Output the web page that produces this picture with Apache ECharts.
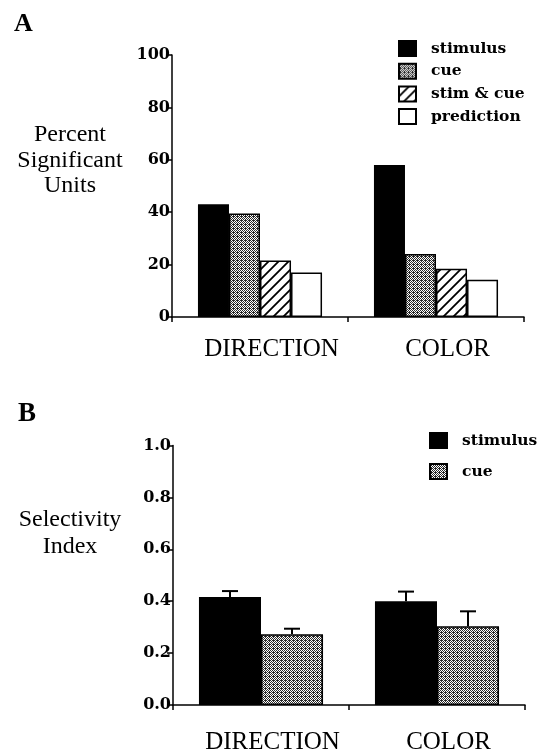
<!DOCTYPE html>
<html>
<head>
<meta charset="utf-8">
<script src="https://cdn.jsdelivr.net/npm/echarts@6/dist/echarts.min.js"></script>
<style>
html,body{margin:0;padding:0;background:#fff;}
#c{width:542px;height:755px;}
</style>
</head>
<body>
<div id="c"></div>
<script>
// ---- data ----
const categories = ['DIRECTION', 'COLOR'];
const seriesNamesA = ['stimulus', 'cue', 'stim & cue', 'prediction'];
const stimulusA = [43, 58];
const cueA = [39.5, 24];
const stimCueA = [21.6, 18.4];
const predictionA = [17, 14.2];
const ticksA = [0, 20, 40, 60, 80, 100];

const seriesNamesB = ['stimulus', 'cue'];
const stimulusB = [0.416, 0.40];
const stimulusErrB = [0.023, 0.037];
const cueB = [0.273, 0.303];
const cueErrB = [0.021, 0.058];
const ticksB = [0.0, 0.2, 0.4, 0.6, 0.8, 1.0];

// ---- patterns ----
function stipple() {
  const c = document.createElement('canvas');
  c.width = 4; c.height = 4;
  const g = c.getContext('2d');
  g.fillStyle = '#fff'; g.fillRect(0, 0, 4, 4);
  g.fillStyle = '#2a2a2a';
  const pts = [[0,0],[2,0],[1,1],[3,1],[0,2],[2,2],[1,3],[3,3],[1,0]];
  pts.forEach(p => g.fillRect(p[0], p[1], 1, 1));
  return c;
}
function hatch() {
  const s = 10;
  const c = document.createElement('canvas');
  c.width = s; c.height = s;
  const g = c.getContext('2d');
  g.fillStyle = '#fff'; g.fillRect(0, 0, s, s);
  g.strokeStyle = '#000'; g.lineWidth = 1.8;
  g.beginPath();
  g.moveTo(-2, s + 2); g.lineTo(s + 2, -2);
  g.moveTo(-2, 2); g.lineTo(2, -2);
  g.moveTo(s - 2, s + 2); g.lineTo(s + 2, s - 2);
  g.stroke();
  return c;
}
const cuePattern = { image: stipple(), repeat: 'repeat' };
const hatchPattern = { image: hatch(), repeat: 'repeat' };

const chart = echarts.init(document.getElementById('c'), null, { renderer: 'canvas' });

const GAP = 0.295;
const tickFont = { fontFamily: 'DejaVu Serif', fontWeight: 'bold', fontSize: 16, color: '#000' };
const catFont = { fontFamily: 'Liberation Serif', fontSize: 25, color: '#000', padding: [0, 0, 0, 23] };
const legendFont = { fontFamily: 'DejaVu Serif', fontWeight: 'bold', fontSize: 15.5, color: '#000', padding: [0, 0, 0, 10] };

function yAxisCfg(grid, ticks, fmt) {
  return {
    type: 'value', gridIndex: grid,
    min: ticks[0], max: ticks[ticks.length - 1], interval: ticks[1] - ticks[0],
    axisLine: { show: true, lineStyle: { color: '#000', width: 1.5 } },
    axisTick: { show: true, length: 6, lineStyle: { color: '#000', width: 1.5 } },
    axisLabel: Object.assign({ margin: 2, formatter: fmt }, tickFont),
    splitLine: { show: false }
  };
}
function xAxisCfg(grid, margin) {
  return {
    type: 'category', gridIndex: grid, data: categories,
    axisLine: { show: true, lineStyle: { color: '#000', width: 1.5 } },
    axisTick: { show: true, length: 5, alignWithLabel: false, lineStyle: { color: '#000', width: 1.5 } },
    axisLabel: Object.assign({ margin: margin, interval: 0 }, catFont),
    splitLine: { show: false }
  };
}

const border = { borderColor: '#000', borderWidth: 1.5 };

function errRender(offsetSign) {
  return function (params, api) {
    const xi = api.value(0), y = api.value(1), e = api.value(2);
    const band = api.size([1, 0])[0];
    const bw = band * (1 - GAP) / 2;
    const base = api.coord([xi, y]);
    const x = base[0] + offsetSign * bw / 2;
    const top = api.coord([xi, y + e])[1];
    const half = 8;
    return {
      type: 'group',
      children: [
        { type: 'line', shape: { x1: x, y1: base[1], x2: x, y2: top }, style: { stroke: '#000', lineWidth: 2 } },
        { type: 'line', shape: { x1: x - half, y1: top, x2: x + half, y2: top }, style: { stroke: '#000', lineWidth: 2 } }
      ]
    };
  };
}

const option = {
  animation: false,
  backgroundColor: '#fff',
  grid: [
    { left: 172, right: 18, top: 55, bottom: 438 },
    { left: 173, right: 17, top: 445.5, bottom: 48 }
  ],
  xAxis: [xAxisCfg(0, 20), xAxisCfg(1, 25)],
  yAxis: [
    yAxisCfg(0, ticksA, v => String(v)),
    yAxisCfg(1, ticksB, v => v.toFixed(1))
  ],
  legend: [
    {
      orient: 'vertical', left: 393, top: 35, itemWidth: 17, itemHeight: 15, itemGap: 5.7,
      icon: 'rect',
      data: seriesNamesA.map(n => ({ name: n })), textStyle: legendFont,
      selectedMode: false
    },
    {
      orient: 'vertical', left: 424, top: 427, itemWidth: 17, itemHeight: 15, itemGap: 14,
      icon: 'rect',
      data: ['stimulus ', 'cue '], textStyle: legendFont,
      selectedMode: false,
      formatter: n => n.trim()
    }
  ],
  graphic: [
    { type: 'text', left: 14, top: 11, style: { text: 'A', font: 'bold 26px "Liberation Serif"', fill: '#000' } },
    { type: 'text', left: 18, top: 401, style: { text: 'B', font: 'bold 27px "Liberation Serif"', fill: '#000' } },
    { type: 'text', x: 70, y: 122, style: { text: 'Percent\nSignificant\nUnits', font: '24px "Liberation Serif"', fill: '#000', align: 'center', lineHeight: 25.5 } },
    { type: 'text', x: 70, y: 506, style: { text: 'Selectivity\nIndex', font: '24px "Liberation Serif"', fill: '#000', align: 'center', lineHeight: 27 } }
  ],
  series: [
    { name: seriesNamesA[0], type: 'bar', xAxisIndex: 0, yAxisIndex: 0, data: stimulusA, barGap: '0%', barCategoryGap: (GAP * 100) + '%', itemStyle: Object.assign({ color: '#000' }, border) },
    { name: seriesNamesA[1], type: 'bar', xAxisIndex: 0, yAxisIndex: 0, data: cueA, itemStyle: Object.assign({ color: cuePattern }, border) },
    { name: seriesNamesA[2], type: 'bar', xAxisIndex: 0, yAxisIndex: 0, data: stimCueA, itemStyle: Object.assign({ color: hatchPattern }, border) },
    { name: seriesNamesA[3], type: 'bar', xAxisIndex: 0, yAxisIndex: 0, data: predictionA, itemStyle: Object.assign({ color: '#fff' }, border) },
    { name: 'stimulus ', type: 'bar', xAxisIndex: 1, yAxisIndex: 1, data: stimulusB, barGap: '0%', barCategoryGap: (GAP * 100) + '%', itemStyle: Object.assign({ color: '#000' }, border) },
    { name: 'cue ', type: 'bar', xAxisIndex: 1, yAxisIndex: 1, data: cueB, itemStyle: Object.assign({ color: cuePattern }, border) },
    {
      type: 'custom', xAxisIndex: 1, yAxisIndex: 1, z: 5,
      renderItem: errRender(-1),
      data: stimulusB.map((v, i) => [i, v, stimulusErrB[i]])
    },
    {
      type: 'custom', xAxisIndex: 1, yAxisIndex: 1, z: 5,
      renderItem: errRender(1),
      data: cueB.map((v, i) => [i, v, cueErrB[i]])
    }
  ]
};
chart.setOption(option);
</script>
</body>
</html>
